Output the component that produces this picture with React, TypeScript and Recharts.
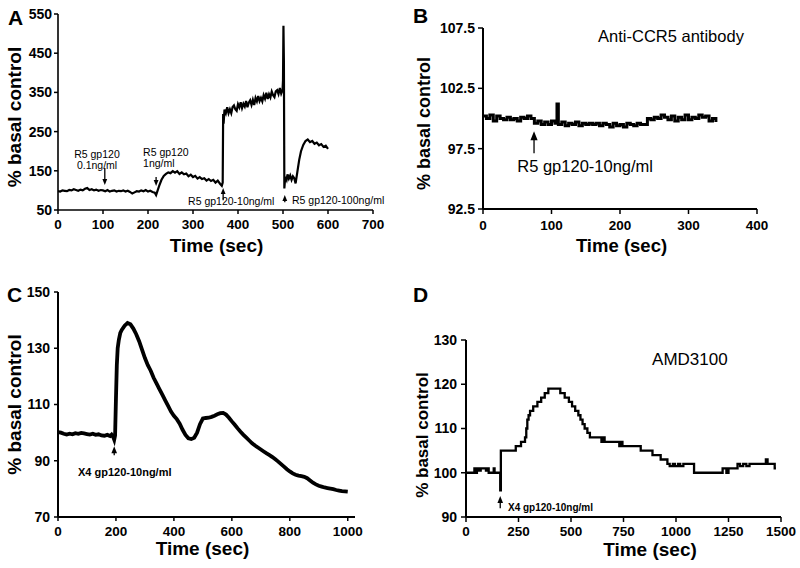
import React from 'react';
import { LineChart, Line, XAxis, YAxis, ReferenceDot, ReferenceLine } from 'recharts';

// ---- Panel A: R5 gp120 dose series ----
const timeA = [
  0, 5, 10, 15, 20, 25, 30, 35, 40, 45, 50, 55, 60, 65, 70, 75, 80, 85, 90, 95,
  100, 105, 110, 115, 120, 125, 130, 135, 140, 145, 150, 155, 160, 165, 170, 175, 180, 185, 190, 195,
  200, 205, 210, 215, 218, 220, 225, 230, 235, 240, 245, 250, 255, 260, 265, 270, 275, 280, 285, 290,
  295, 300, 305, 310, 315, 320, 325, 330, 335, 340, 345, 350, 355, 360, 364, 366, 367, 368,
  370, 373, 376, 379, 382, 385, 388, 391, 394, 397, 400, 403, 406, 409, 412, 415, 418, 421, 424, 427,
  430, 433, 436, 439, 442, 445, 448, 451, 454, 457, 460, 463, 466, 469, 472, 475, 478, 481, 484, 487,
  490, 493, 496, 499, 500, 501, 502, 503, 505, 508, 510, 513, 516, 519, 522, 525, 528, 532, 536,
  540, 545, 550, 555, 560, 565, 570, 575, 580, 585, 590, 595, 600,
];
const pctA = [
  98, 97, 100, 99, 98, 101, 100, 103, 101, 99, 102, 100, 104, 106, 101, 103, 100, 102, 99, 101,
  100, 98, 101, 97, 99, 100, 97, 99, 98, 100, 97, 99, 96, 92, 95, 98, 97, 100, 98, 101,
  97, 99, 96, 94, 88, 95, 112, 127, 137, 142, 146, 144, 149, 145, 149, 142, 146, 141, 143, 136,
  140, 134, 137, 130, 134, 129, 131, 125, 129, 124, 127, 120, 125, 117, 112, 120, 295, 270,
  306, 297, 312, 297, 307, 297, 313, 317, 307, 303, 320, 312, 325, 310, 321, 314, 328, 312, 324, 330,
  318, 331, 318, 336, 327, 341, 328, 336, 327, 343, 334, 349, 333, 345, 337, 352, 343, 338, 353, 356,
  346, 361, 347, 356, 380, 520, 430, 105, 135, 127, 141, 130, 138, 127, 136, 131, 118, 148, 178,
  200, 216, 226, 230, 223, 226, 219, 222, 215, 218, 211, 214, 206,
];
const ticksAX = [0, 100, 200, 300, 400, 500, 600, 700];
const ticksAY = [50, 150, 250, 350, 450, 550];
const notesA = [
  { t: 36, v: 183, text: 'R5 gp120' },
  { t: 42, v: 155, text: '0.1ng/ml' },
  { t: 189, v: 188, text: 'R5 gp120' },
  { t: 189, v: 160, text: '1ng/ml' },
  { t: 289, v: 63, text: 'R5 gp120-10ng/ml' },
  { t: 520, v: 65, text: 'R5 gp120-100ng/ml' },
];
const arrowsA = [
  { t: 104, from: 157, to: 114 },
  { t: 218, from: 134, to: 111 },
  { t: 367, from: 75, to: 106 },
  { t: 504, from: 70, to: 88 },
];

// ---- Panel B: Anti-CCR5 antibody ----
const timeB = [
  0, 5, 10, 15, 20, 25, 30, 35, 40, 45, 50, 55, 60, 65, 70, 75, 80, 85, 90, 95,
  100, 105, 108, 110, 115, 120, 125, 130, 135, 140, 145, 150, 155, 160, 165, 170, 175, 180, 185, 190,
  195, 200, 205, 210, 215, 220, 225, 230, 235, 240, 245, 250, 255, 260, 265, 270, 275, 280, 285, 290,
  295, 300, 305, 310, 315, 320, 325, 330, 335, 340,
];
const pctB = [
  100.2, 100.0, 100.3, 99.8, 100.2, 100.0, 99.9, 100.1, 99.9, 100.0, 99.8, 100.1, 100.0, 100.2, 100.0, 99.6, 99.8, 99.5, 99.7, 99.5,
  99.8, 99.6, 101.2, 99.5, 99.7, 99.4, 99.6, 99.5, 99.7, 99.4, 99.6, 99.5, 99.6, 99.5, 99.6, 99.4, 99.6, 99.5, 99.3, 99.6,
  99.4, 99.5, 99.3, 99.6, 99.5, 99.4, 99.6, 99.5, 99.5, 100.0, 99.9, 100.1, 100.0, 100.3, 100.1, 99.9, 100.2, 99.8, 100.1, 99.9,
  100.3, 99.9, 100.1, 100.0, 100.3, 100.1, 100.2, 99.8, 100.0, 99.7,
];
const ticksBX = [0, 100, 200, 300, 400];
const ticksBY = [92.5, 97.5, 102.5, 107.5];
const notesB = [
  { t: 168, v: 106.34, text: 'Anti-CCR5 antibody' },
  { t: 50, v: 95.55, text: 'R5 gp120-10ng/ml' },
];
const arrowsB = [{ t: 74.5, from: 97.13, to: 98.95 }];

// ---- Panel C: X4 gp120 ----
const timeC = [
  0, 10, 20, 30, 40, 50, 60, 70, 80, 90, 100, 110, 120, 130, 140, 150, 160, 170, 180, 185,
  190, 194, 197, 200, 203, 206, 210, 215, 220, 230, 240, 250, 260, 270, 280, 290, 300, 310, 320, 330,
  340, 350, 360, 370, 380, 390, 400, 410, 420, 430, 440, 450, 460, 470, 480, 490, 500, 510, 520, 530,
  540, 550, 560, 570, 580, 590, 600, 610, 620, 630, 640, 650, 660, 670, 680, 690, 700, 710, 720, 730,
  740, 750, 760, 770, 780, 790, 800, 810, 820, 830, 840, 850, 860, 870, 880, 890, 900, 910, 920, 930,
  940, 950, 960, 970, 980, 990, 1000,
];
const pctC = [
  100.2, 100.0, 99.6, 99.3, 99.6, 99.4, 99.8, 99.6, 99.9, 99.7, 99.5, 99.3, 99.6, 99.2, 99.4, 99.0, 98.9, 99.2, 98.8, 99.3,
  98.6, 97.5, 99, 112, 124, 130, 133, 135.5, 136.5, 138, 139, 138.5, 137, 135, 132.5, 129.5, 126.5, 124, 122, 119.5,
  117.5, 115.5, 113.5, 111.5, 109.5, 107.5, 106, 104.8, 103.2, 101, 99.2, 98, 97.7, 98.2, 100, 103, 105, 105.2, 105.3, 105.6,
  106, 106.5, 106.9, 107, 106.4, 105.3, 104, 102.8, 101.5, 100.3, 99.2, 98.2, 97.2, 96.2, 95.4, 94.7, 94, 93.3, 92.6, 92,
  91.3, 90.5, 89.7, 88.8, 87.9, 87, 86.2, 85.5, 85, 84.7, 84.5, 84.3, 83.8, 83, 82.2, 81.6, 81.1, 80.8, 80.5, 80.3,
  80.1, 79.9, 79.6, 79.4, 79.2, 79.1, 79,
];
const ticksCX = [0, 200, 400, 600, 800, 1000];
const ticksCY = [70, 90, 110, 130, 150];
const tagsC = [{ t: 69, v: 84.6, text: 'X4 gp120-10ng/ml' }];
const arrowsC = [{ t: 194, from: 92.0, to: 95.2 }];

// ---- Panel D: AMD3100 (stepped trace) ----
const timeD = [
  0, 40, 48, 52, 60, 70, 95, 100, 108, 132, 136, 163, 166, 237, 262, 281, 287, 292, 298, 305,
  320, 340, 358, 375, 392, 449, 470, 490, 505, 520, 535, 545, 555, 565, 578, 590, 645, 650, 660, 730,
  740, 745, 832, 888, 927, 959, 970, 985, 995, 1010, 1020, 1035, 1086, 1222, 1240, 1250, 1293, 1305, 1320, 1335,
  1350, 1428, 1436, 1470, 1476,
];
const pctD = [
  100, 101, 100, 101, 100.5, 101, 100.5, 101, 100, 101, 100, 96, 105, 106, 107, 108, 110, 112, 113, 114,
  115, 116, 117, 118, 119, 118, 117, 116, 115, 114, 113, 112, 111, 110, 109, 108, 107, 108, 107, 106,
  107, 106, 105, 104, 103, 102, 101.5, 102, 101.5, 102, 101.5, 102, 100, 101, 100, 101, 102, 101.5, 102, 101.5,
  102, 103, 102, 101, 101,
];
const ticksDX = [0, 250, 500, 750, 1000, 1250, 1500];
const ticksDY = [90, 100, 110, 120, 130];
const notesD = [{ t: 886, v: 124.35, text: 'AMD3100' }];
const tagsD = [{ t: 200, v: 91.4, text: 'X4 gp120-10ng/ml' }];
const arrowsD = [{ t: 163, from: 92.0, to: 94.75 }];

type Note = { t: number; v: number; text: string };

const toRows = (ts: number[], vs: number[]) => ts.map((t, i) => ({ t, v: vs[i] }));

const FONT = '"Liberation Sans", Arial, Helvetica, sans-serif';

const xTitle = (dx: number, baseline: number, size: number) => (props: any) => {
  const vb = props.viewBox;
  return (
    <text x={vb.x + vb.width / 2 + dx} y={vb.y + baseline} textAnchor="middle" fontSize={size} fontWeight="bold" fill="#000">
      Time (sec)
    </text>
  );
};

const yTitle = (cx: number, dy: number, size: number) => (props: any) => {
  const vb = props.viewBox;
  const x = vb.x + cx;
  const y = vb.y + vb.height / 2 + dy;
  return (
    <text x={x} y={y} transform={`rotate(-90, ${x}, ${y})`} textAnchor="middle" dominantBaseline="central" fontSize={size} fontWeight="bold" fill="#000">
      % basal control
    </text>
  );
};

const arrowShape = (head: number) => (p: any) => {
  const { x1, y1, x2, y2 } = p;
  const dir = y2 < y1 ? -1 : 1;
  return (
    <g>
      <line x1={x1} y1={y1} x2={x2} y2={y2 - dir * head * 0.7} stroke="#000" strokeWidth={1.3} />
      <path d={`M${x2},${y2} L${x2 - head * 0.4},${y2 - dir * head} L${x2 + head * 0.4},${y2 - dir * head} Z`} fill="#000" />
    </g>
  );
};

const noteDots = (list: Note[], size: number, bold: boolean, key: string) =>
  list.map((n, i) => (
    <ReferenceDot
      key={`${key}-${i}`}
      x={n.t}
      y={n.v}
      r={0}
      ifOverflow="visible"
      shape={(s: any) => (
        <text x={s.cx} y={s.cy} fontSize={size} fontWeight={bold ? 'bold' : 'normal'} fill="#000">
          {n.text}
        </text>
      )}
    />
  ));

type PanelProps = {
  rows: { t: number; v: number }[];
  width: number;
  height: number;
  margin: { top: number; right: number; bottom: number; left: number };
  yWidth: number;
  xHeight: number;
  xDomain: number[];
  xTicks: number[];
  yDomain: number[];
  yTicks: number[];
  lineType: 'linear' | 'stepAfter';
  strokeWidth: number;
  notes: Note[];
  noteSize: number;
  tags: Note[];
  tagSize: number;
  arrows: { t: number; from: number; to: number }[];
  head: number;
  xLabel: (p: any) => React.ReactElement;
  yLabel: (p: any) => React.ReactElement;
  tickX: number;
  tickY: number;
  tickMarginX: number;
  tickMarginY: number;
  axisWidth: number;
};

const Panel = (p: PanelProps) => (
  <LineChart width={p.width} height={p.height} data={p.rows} margin={p.margin}>
    <XAxis
      type="number"
      dataKey="t"
      domain={p.xDomain}
      ticks={p.xTicks}
      interval={0}
      height={p.xHeight}
      tickSize={p.tickX}
      tickMargin={p.tickMarginX}
      axisLine={{ stroke: '#000', strokeWidth: p.axisWidth }}
      tickLine={{ stroke: '#000', strokeWidth: 1.5 }}
      tick={{ fontSize: 13.5, fontWeight: 'bold', fill: '#000' }}
      label={{ content: p.xLabel }}
    />
    <YAxis
      type="number"
      domain={p.yDomain}
      ticks={p.yTicks}
      interval={0}
      width={p.yWidth}
      tickSize={p.tickY}
      tickMargin={p.tickMarginY}
      axisLine={{ stroke: '#000', strokeWidth: p.axisWidth }}
      tickLine={{ stroke: '#000', strokeWidth: 1.5 }}
      tick={{ fontSize: 14, fontWeight: 'bold', fill: '#000' }}
      label={{ content: p.yLabel }}
    />
    <Line
      type={p.lineType}
      dataKey="v"
      stroke="#000"
      strokeWidth={p.strokeWidth}
      dot={false}
      isAnimationActive={false}
    />
    {p.arrows.map((a, i) => (
      <ReferenceLine
        key={`ar-${i}`}
        segment={[{ x: a.t, y: a.from }, { x: a.t, y: a.to }]}
        ifOverflow="visible"
        shape={arrowShape(p.head)}
      />
    ))}
    {noteDots(p.notes, p.noteSize, false, 'nt')}
    {noteDots(p.tags, p.tagSize, true, 'tg')}
  </LineChart>
);

const letterStyle: React.CSSProperties = {
  position: 'absolute',
  fontSize: 21,
  fontWeight: 'bold',
  lineHeight: '21px',
  color: '#000',
};

export default function App() {
  return (
    <div style={{ position: 'fixed', left: 0, top: 0, width: 800, height: 568, background: '#fff', fontFamily: FONT, overflow: 'hidden' }}>
      <div style={{ position: 'absolute', left: 0, top: 0 }}>
        <Panel
          rows={toRows(timeA, pctA)}
          width={400}
          height={280}
          margin={{ top: 14, right: 27, bottom: 0, left: 0 }}
          yWidth={58}
          xHeight={70}
          xDomain={[0, 700]}
          xTicks={ticksAX}
          yDomain={[50, 550]}
          yTicks={ticksAY}
          lineType="linear"
          strokeWidth={2.2}
          notes={notesA}
          noteSize={10.5}
          tags={[]}
          tagSize={10}
          arrows={arrowsA}
          head={6}
          xLabel={xTitle(1, 42, 19)}
          yLabel={yTitle(14, 5, 19)}
          tickX={4}
          tickY={4}
          tickMarginX={5}
          tickMarginY={2}
          axisWidth={1.6}
        />
      </div>
      <div style={{ position: 'absolute', left: 400, top: 0 }}>
        <Panel
          rows={toRows(timeB, pctB)}
          width={400}
          height={280}
          margin={{ top: 28, right: 43, bottom: 0, left: 0 }}
          yWidth={83}
          xHeight={71}
          xDomain={[0, 400]}
          xTicks={ticksBX}
          yDomain={[92.5, 107.5]}
          yTicks={ticksBY}
          lineType="stepAfter"
          strokeWidth={3}
          notes={notesB}
          noteSize={16.5}
          tags={[]}
          tagSize={10}
          arrows={arrowsB}
          head={9}
          xLabel={xTitle(1.5, 43, 18.5)}
          yLabel={yTitle(23.5, 5, 18)}
          tickX={5}
          tickY={5}
          tickMarginX={6}
          tickMarginY={3}
          axisWidth={2}
        />
      </div>
      <div style={{ position: 'absolute', left: 0, top: 280 }}>
        <Panel
          rows={toRows(timeC, pctC)}
          width={400}
          height={288}
          margin={{ top: 12, right: 45, bottom: 0, left: 0 }}
          yWidth={58}
          xHeight={51}
          xDomain={[0, 1025]}
          xTicks={ticksCX}
          yDomain={[70, 150]}
          yTicks={ticksCY}
          lineType="linear"
          strokeWidth={3.8}
          notes={[]}
          noteSize={16}
          tags={tagsC}
          tagSize={11}
          arrows={arrowsC}
          head={7}
          xLabel={xTitle(-4, 38, 19)}
          yLabel={yTitle(14.5, 0, 19)}
          tickX={4}
          tickY={4}
          tickMarginX={5}
          tickMarginY={4}
          axisWidth={2}
        />
      </div>
      <div style={{ position: 'absolute', left: 400, top: 280 }}>
        <Panel
          rows={toRows(timeD, pctD)}
          width={400}
          height={288}
          margin={{ top: 60, right: 19, bottom: 0, left: 0 }}
          yWidth={66}
          xHeight={51}
          xDomain={[0, 1500]}
          xTicks={ticksDX}
          yDomain={[90, 130]}
          yTicks={ticksDY}
          lineType="stepAfter"
          strokeWidth={2.3}
          notes={notesD}
          noteSize={17}
          tags={tagsD}
          tagSize={10}
          arrows={arrowsD}
          head={7}
          xLabel={xTitle(26.5, 39, 19)}
          yLabel={yTitle(22.5, 6.5, 17)}
          tickX={5}
          tickY={5}
          tickMarginX={4}
          tickMarginY={4}
          axisWidth={2}
        />
      </div>
      <span style={{ ...letterStyle, left: 8, top: 7 }}>A</span>
      <span style={{ ...letterStyle, left: 413, top: 5 }}>B</span>
      <span style={{ ...letterStyle, left: 7, top: 284 }}>C</span>
      <span style={{ ...letterStyle, left: 413, top: 284 }}>D</span>
    </div>
  );
}
